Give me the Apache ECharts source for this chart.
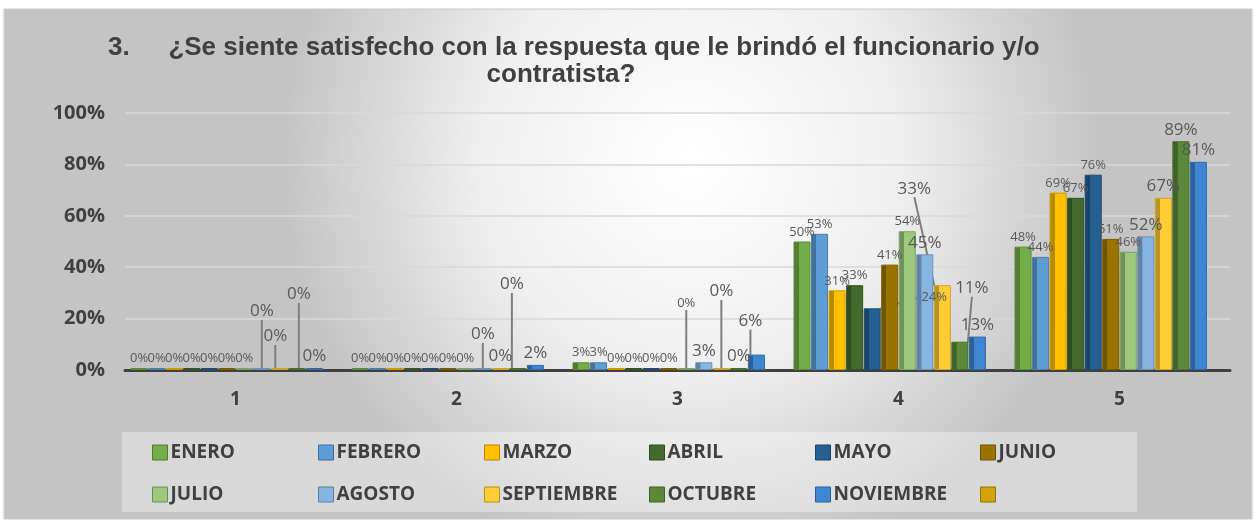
<!DOCTYPE html>
<html>
<head>
<meta charset="utf-8">
<script src="https://cdn.jsdelivr.net/npm/echarts@6/dist/echarts.min.js"></script>
<style>
  html, body { margin: 0; padding: 0; background: #fff; }
  #chart { width: 1257px; height: 522px; }
</style>
</head>
<body>
<div id="chart"></div>
<script>
// categorias y valores (porcentajes)
var categorias = ['1', '2', '3', '4', '5'];
var meses = ['ENERO', 'FEBRERO', 'MARZO', 'ABRIL', 'MAYO', 'JUNIO',
             'JULIO', 'AGOSTO', 'SEPTIEMBRE', 'OCTUBRE', 'NOVIEMBRE', ' '];
var enero      = [0, 0, 3, 50, 48];
var febrero    = [0, 0, 3, 53, 44];
var marzo      = [0, 0, 0, 31, 69];
var abril      = [0, 0, 0, 33, 67];
var mayo       = [0, 0, 0, 24, 76];
var junio      = [0, 0, 0, 41, 51];
var julio      = [0, 0, 0, 54, 46];
var agosto     = [0, 0, 3, 45, 52];
var septiembre = [0, 0, 0, 33, 67];
var octubre    = [0, 0, 0, 11, 89];
var noviembre  = [0, 2, 6, 13, 81];
var diciembre  = [];
var yTicks = [0, 20, 40, 60, 80, 100];

var valores = [enero, febrero, marzo, abril, mayo, junio, julio, agosto,
               septiembre, octubre, noviembre, diciembre];
var colores = ['#72ad47', '#5e9dd6', '#ffc000', '#44692c', '#265f92', '#9a7400',
               '#9cc97c', '#86b5e2', '#ffcd33', '#5a8a39', '#3e86d2', '#d4a30b'];
// los ultimos meses llevan etiqueta mas grande
var etiquetaGrande = [false, false, false, false, false, false,
                      false, true, true, true, true, true];

// etiquetas desplazadas con linea guia: 'serie-categoria': [dx, dy]
var desplazadas = {
    '7-0': [0, -45], '8-0': [-4, -20], '9-0': [2, -62],
    '7-1': [0, -22], '9-1': [-6, -72],
    '6-2': [0, -55], '8-2': [0, -65], '10-2': [-6, -22],
    '8-3': [-28, -85], '9-3': [12, -42], '4-3': [62, -2]
};

function oscurecer(hex, f) {
    var n = parseInt(hex.slice(1), 16);
    var r = Math.round(((n >> 16) & 255) * f);
    var g = Math.round(((n >> 8) & 255) * f);
    var b = Math.round((n & 255) * f);
    return 'rgb(' + r + ',' + g + ',' + b + ')';
}

var series = [];
var legends = [];
var colX = [152, 318, 484, 649, 815, 980];
for (var i = 0; i < meses.length; i++) {
    var c = colores[i];
    // solo las etiquetas desplazadas llevan linea guia
    var datos = valores[i].map(function (v, j) {
        if (desplazadas[i + '-' + j]) {
            return { value: v, labelLine: { show: true } };
        }
        return v;
    });
    series.push({
        name: meses[i],
        type: 'bar',
        data: datos,
        barMinHeight: 2,
        barGap: '3%',
        barCategoryGap: '5%',
        itemStyle: {
            color: {
                type: 'linear', x: 0, y: 0, x2: 1, y2: 0,
                colorStops: [
                    { offset: 0, color: oscurecer(c, 0.72) },
                    { offset: 0.3, color: oscurecer(c, 0.72) },
                    { offset: 0.31, color: c },
                    { offset: 1, color: c }
                ]
            },
            borderColor: oscurecer(c, 0.8),
            borderWidth: 1
        },
        label: {
            show: true,
            position: 'top',
            distance: 3,
            formatter: '{c}%',
            color: '#595959',
            fontFamily: 'Open Sans',
            fontSize: etiquetaGrande[i] ? 17 : 13
        },
        labelLine: {
            show: false,
            lineStyle: { color: '#7f7f7f', width: 2 }
        },
        labelLayout: function (p) {
            var d = desplazadas[p.seriesIndex + '-' + p.dataIndex];
            if (!d) {
                return {};
            }
            return { dx: d[0], dy: d[1] };
        }
    });
    legends.push({
        data: [{ name: meses[i], itemStyle: { color: c, borderColor: oscurecer(c, 0.7), borderWidth: 1 } }],
        left: colX[i % 6],
        top: i < 6 ? 443 : 485,
        padding: 0,
        icon: 'rect',
        itemWidth: 15,
        itemHeight: 15,
        itemGap: 0,
        textStyle: { color: '#404040', fontFamily: 'Open Sans', fontWeight: 'bold', fontSize: 19, padding: [0, 0, 0, -2] }
    });
}

var tituloFont = 'bold 26px "Liberation Sans"';

var chart = echarts.init(document.getElementById('chart'));
chart.setOption({
    animation: false,
    graphic: [
        {
            type: 'rect', z: -10, silent: true,
            shape: { x: 4, y: 9, width: 1248, height: 510 },
            style: {
                fill: {
                    type: 'radial', x: 0.55, y: 0.3, r: 0.8,
                    colorStops: [
                        { offset: 0, color: '#ffffff' },
                        { offset: 0.5, color: '#f0f0f0' },
                        { offset: 1, color: '#c4c4c4' }
                    ]
                },
                stroke: '#c8c8c8', lineWidth: 1
            }
        },
        {
            type: 'rect', z: -9, silent: true,
            shape: { x: 122, y: 432, width: 1015, height: 80 },
            style: { fill: 'rgba(255,255,255,0.35)' }
        },
        {
            type: 'text', z: 5, silent: true,
            x: 108, y: 48,
            style: { text: '3.', font: tituloFont, fill: '#404040', textVerticalAlign: 'middle' }
        },
        {
            type: 'text', z: 5, silent: true,
            x: 604, y: 48,
            style: {
                text: '¿Se siente satisfecho con la respuesta que le brindó el funcionario y/o',
                font: tituloFont, fill: '#404040',
                textAlign: 'center', textVerticalAlign: 'middle'
            }
        },
        {
            type: 'text', z: 5, silent: true,
            x: 561, y: 75,
            style: {
                text: 'contratista?',
                font: tituloFont, fill: '#404040',
                textAlign: 'center', textVerticalAlign: 'middle'
            }
        }
    ],
    legend: legends,
    grid: { left: 125, right: 27, top: 113, bottom: 152 },
    xAxis: {
        type: 'category',
        data: categorias,
        axisLine: { lineStyle: { color: '#404040', width: 3 } },
        axisTick: { show: false },
        axisLabel: {
            margin: 20,
            color: '#404040',
            fontFamily: 'Open Sans',
            fontWeight: 'bold',
            fontSize: 19
        }
    },
    yAxis: {
        type: 'value',
        min: yTicks[0],
        max: yTicks[yTicks.length - 1],
        interval: 20,
        axisLine: { show: false },
        axisTick: { show: false },
        splitLine: { lineStyle: { color: '#d9d9d9', width: 1.5 } },
        axisLabel: {
            margin: 20,
            formatter: '{value}%',
            color: '#404040',
            fontFamily: 'Open Sans',
            fontWeight: 'bold',
            fontSize: 20
        }
    },
    series: series
});
</script>
</body>
</html>
